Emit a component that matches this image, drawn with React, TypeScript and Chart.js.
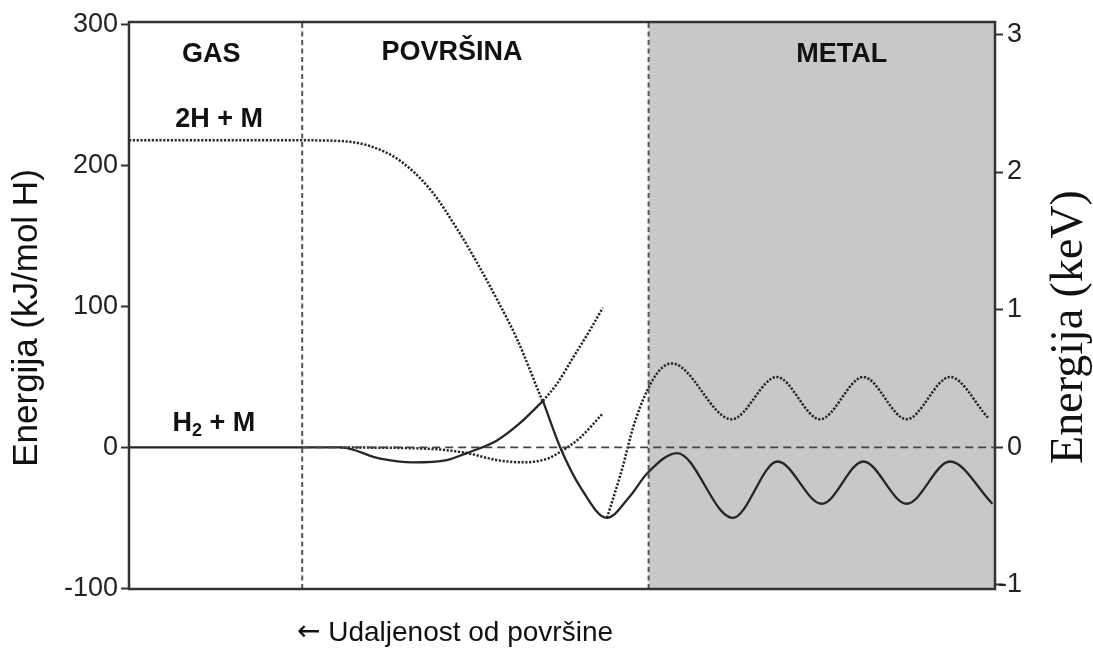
import React, { useEffect, useRef } from "react";
import { Chart, registerables } from "chart.js";

Chart.register(...registerables);

// ---- axes ----
const X_MIN = 0;
const X_MAX = 100;
const Y_LEFT_MIN = -100.5;
const Y_LEFT_MAX = 302;
const Y_RIGHT_MIN = -1.03;
const Y_RIGHT_MAX = 3.09;
const LEFT_TICKS = [-100, 0, 100, 200, 300];
const RIGHT_TICKS = [-1, 0, 1, 2, 3];

// ---- regions ----
const REGION_BOUNDS = [20, 60];
const REGION_LABELS = ["GAS", "POVRŠINA", "METAL"];

// ---- H2 (molecular) curve, solid ----
const H2_APPROACH_X = [0, 20, 24.4, 29.0, 32.8, 36.7, 39.0, 42.5, 45.1, 47.8];
const H2_APPROACH_Y = [0, 0, 0, -8, -10.6, -9, -4, 5, 17, 33];
const H2_BULK_X = [47.8, 49.8, 52.1, 55.2, 57.8, 59.9, 63.3, 69.7, 74.9, 80.0, 84.8, 89.8, 94.8, 99.7];
const H2_BULK_Y = [33, 0, -28, -50, -35, -18, -4, -50, -10, -40, -10, -40, -10, -40];

// ---- 2H (atomic) curve, dotted ----
const H_ATOM_X = [0, 20, 24.4, 27.8, 31.3, 34.8, 37.9, 40.2, 42.5, 44.8, 47.8];
const H_ATOM_Y = [218, 218, 217.5, 214, 203.5, 183, 155, 131, 105, 77, 32];
const H_BULK_X = [55.2, 57.0, 58.2, 59.8, 61.3, 62.7, 69.6, 74.8, 79.8, 84.8, 89.8, 94.8, 99.2];
const H_BULK_Y = [-50, -14, 14, 40, 55, 59.6, 20, 50, 20, 50, 20, 50, 21];

// ---- secondary dotted curves ----
const REPULSIVE_X = [47.8, 49.4, 51.3, 53.2, 54.7];
const REPULSIVE_Y = [33, 45, 64, 83, 99];
const PHYS_X = [24.4, 34.8, 39.0, 42.5, 45.5, 48.3, 50.1, 52.1, 54.7];
const PHYS_Y = [0, -1, -4, -9, -10.6, -8, -2, 7, 24];

// ---- zero reference ----
const ZERO_X = [20, 100];
const ZERO_Y = [0, 0];

// ---- annotation text ----
const LEFT_TITLE = "Energija (kJ/mol H)";
const RIGHT_TITLE = "Energija (keV)";
const X_TITLE_ARROW = "←";
const X_TITLE = "Udaljenost od površine";

const SANS = '"Liberation Sans", Arial, sans-serif';
const SERIF = '"Liberation Serif", "Times New Roman", serif';
const INK = "#262626";

const pts = (xs: number[], ys: number[]) => xs.map((x, i) => ({ x, y: ys[i] }));

const overlayPlugin = {
  id: "overlay",
  beforeDatasetsDraw(chart: any) {
    const { ctx, chartArea, scales } = chart;
    const x0 = scales.x.getPixelForValue(REGION_BOUNDS[1]);
    ctx.save();
    ctx.fillStyle = "#c8c8c8";
    ctx.fillRect(x0, chartArea.top, chartArea.right - x0, chartArea.bottom - chartArea.top);
    ctx.restore();
  },
  afterDatasetsDraw(chart: any) {
    const { ctx, chartArea, scales } = chart;
    const xs = scales.x;
    const ys = scales.y;
    ctx.save();
    // frame
    ctx.strokeStyle = "#333";
    ctx.lineWidth = 2.5;
    ctx.strokeRect(chartArea.left, chartArea.top, chartArea.right - chartArea.left, chartArea.bottom - chartArea.top);

    ctx.fillStyle = "#111";
    ctx.textAlign = "center";
    ctx.textBaseline = "middle";
    ctx.font = `bold 27px ${SANS}`;
    const regionPos = [
      [9.5, 279],
      [37.3, 280.5],
      [82.3, 279],
    ];
    REGION_LABELS.forEach((t, i) => {
      ctx.fillText(t, xs.getPixelForValue(regionPos[i][0]), ys.getPixelForValue(regionPos[i][1]));
    });
    ctx.fillText("2H + M", xs.getPixelForValue(10.4), ys.getPixelForValue(233));

    // H2 + M with subscript
    {
      const cx = xs.getPixelForValue(9.8);
      const cy = ys.getPixelForValue(17.3);
      ctx.textAlign = "left";
      ctx.font = `bold 27px ${SANS}`;
      const wH = ctx.measureText("H").width;
      const wRest = ctx.measureText(" + M").width;
      ctx.font = `bold 18px ${SANS}`;
      const w2 = ctx.measureText("2").width;
      const total = wH + w2 + wRest;
      let x = cx - total / 2;
      ctx.font = `bold 27px ${SANS}`;
      ctx.fillText("H", x, cy);
      x += wH;
      ctx.font = `bold 18px ${SANS}`;
      ctx.fillText("2", x, cy + 8);
      x += w2;
      ctx.font = `bold 27px ${SANS}`;
      ctx.fillText(" + M", x, cy);
    }

    // axis titles
    ctx.fillStyle = "#111";
    ctx.textAlign = "center";
    ctx.textBaseline = "middle";
    ctx.font = `35px ${SANS}`;
    ctx.save();
    ctx.translate(27, 318);
    ctx.rotate(-Math.PI / 2);
    ctx.fillText(LEFT_TITLE, 0, 0);
    ctx.restore();

    ctx.font = `46px ${SERIF}`;
    ctx.save();
    ctx.translate(1070, 327);
    ctx.rotate(-Math.PI / 2);
    ctx.fillText(RIGHT_TITLE, 0, 0);
    ctx.restore();

    // x title with arrow
    {
      ctx.textAlign = "left";
      ctx.font = `28px "DejaVu Sans", sans-serif`;
      const wA = ctx.measureText(X_TITLE_ARROW).width;
      ctx.font = `28px ${SANS}`;
      const wS = ctx.measureText(" ").width;
      const wT = ctx.measureText(X_TITLE).width;
      let x = 455 - (wA + wS + wT) / 2;
      ctx.font = `28px "DejaVu Sans", sans-serif`;
      ctx.fillText(X_TITLE_ARROW, x, 633);
      x += wA + wS;
      ctx.font = `28px ${SANS}`;
      ctx.fillText(X_TITLE, x, 633);
    }
    ctx.restore();
  },
};

export default function App() {
  const canvasRef = useRef<HTMLCanvasElement | null>(null);

  useEffect(() => {
    if (!canvasRef.current) return;
    const dotted = { borderDash: [2.2, 1.6], borderWidth: 2.5, borderColor: INK };
    const solid = { borderWidth: 2.3, borderColor: INK };
    const common = { pointRadius: 0, fill: false, cubicInterpolationMode: "monotone" as const };

    const datasets: any[] = [
      ...REGION_BOUNDS.map((b) => ({
        data: [
          { x: b, y: Y_LEFT_MIN },
          { x: b, y: Y_LEFT_MAX },
        ],
        borderColor: "#555",
        borderWidth: 2,
        borderDash: [5, 3.5],
        pointRadius: 0,
      })),
      {
        data: pts(ZERO_X, ZERO_Y),
        borderColor: "#444",
        borderWidth: 1.8,
        borderDash: [8, 5],
        pointRadius: 0,
      },
      { data: pts(PHYS_X, PHYS_Y), ...common, ...dotted },
      { data: pts(REPULSIVE_X, REPULSIVE_Y), ...common, ...dotted },
      { data: pts(H_ATOM_X, H_ATOM_Y), ...common, ...dotted },
      { data: pts(H_BULK_X, H_BULK_Y), ...common, ...dotted },
      { data: pts(H2_APPROACH_X, H2_APPROACH_Y), ...common, ...solid },
      { data: pts(H2_BULK_X, H2_BULK_Y), ...common, ...solid },
    ];

    const tickFont = { family: SANS, size: 27 };

    const chart = new Chart(canvasRef.current, {
      type: "line",
      data: { datasets },
      options: {
        animation: false,
        responsive: true,
        maintainAspectRatio: false,
        devicePixelRatio: 1,
        layout: { padding: { left: 0, top: 22, right: 71, bottom: 61 } },
        plugins: { legend: { display: false }, tooltip: { enabled: false } },
        scales: {
          x: { type: "linear", min: X_MIN, max: X_MAX, display: false },
          y: {
            position: "left",
            min: Y_LEFT_MIN,
            max: Y_LEFT_MAX,
            afterBuildTicks: (s: any) => {
              s.ticks = LEFT_TICKS.map((v) => ({ value: v }));
            },
            afterFit: (s: any) => {
              s.width = 129;
            },
            border: { display: false },
            grid: { drawOnChartArea: false, drawTicks: true, tickLength: 8, tickWidth: 2, tickColor: "#333" },
            ticks: { font: tickFont, color: "#222", padding: 3 },
          },
          y2: {
            position: "right",
            min: Y_RIGHT_MIN,
            max: Y_RIGHT_MAX,
            afterBuildTicks: (s: any) => {
              s.ticks = RIGHT_TICKS.map((v) => ({ value: v }));
            },
            afterFit: (s: any) => {
              s.width = 27;
            },
            border: { display: false },
            grid: { drawOnChartArea: false, drawTicks: true, tickLength: 8, tickWidth: 2, tickColor: "#333" },
            ticks: { font: tickFont, color: "#222", padding: 4, crossAlign: "far" },
          },
        },
      } as any,
      plugins: [overlayPlugin],
    });
    return () => chart.destroy();
  }, []);

  return (
    <div style={{ position: "absolute", left: 0, top: 0, width: 1093, height: 650, background: "#fff" }}>
      <canvas ref={canvasRef} />
    </div>
  );
}
